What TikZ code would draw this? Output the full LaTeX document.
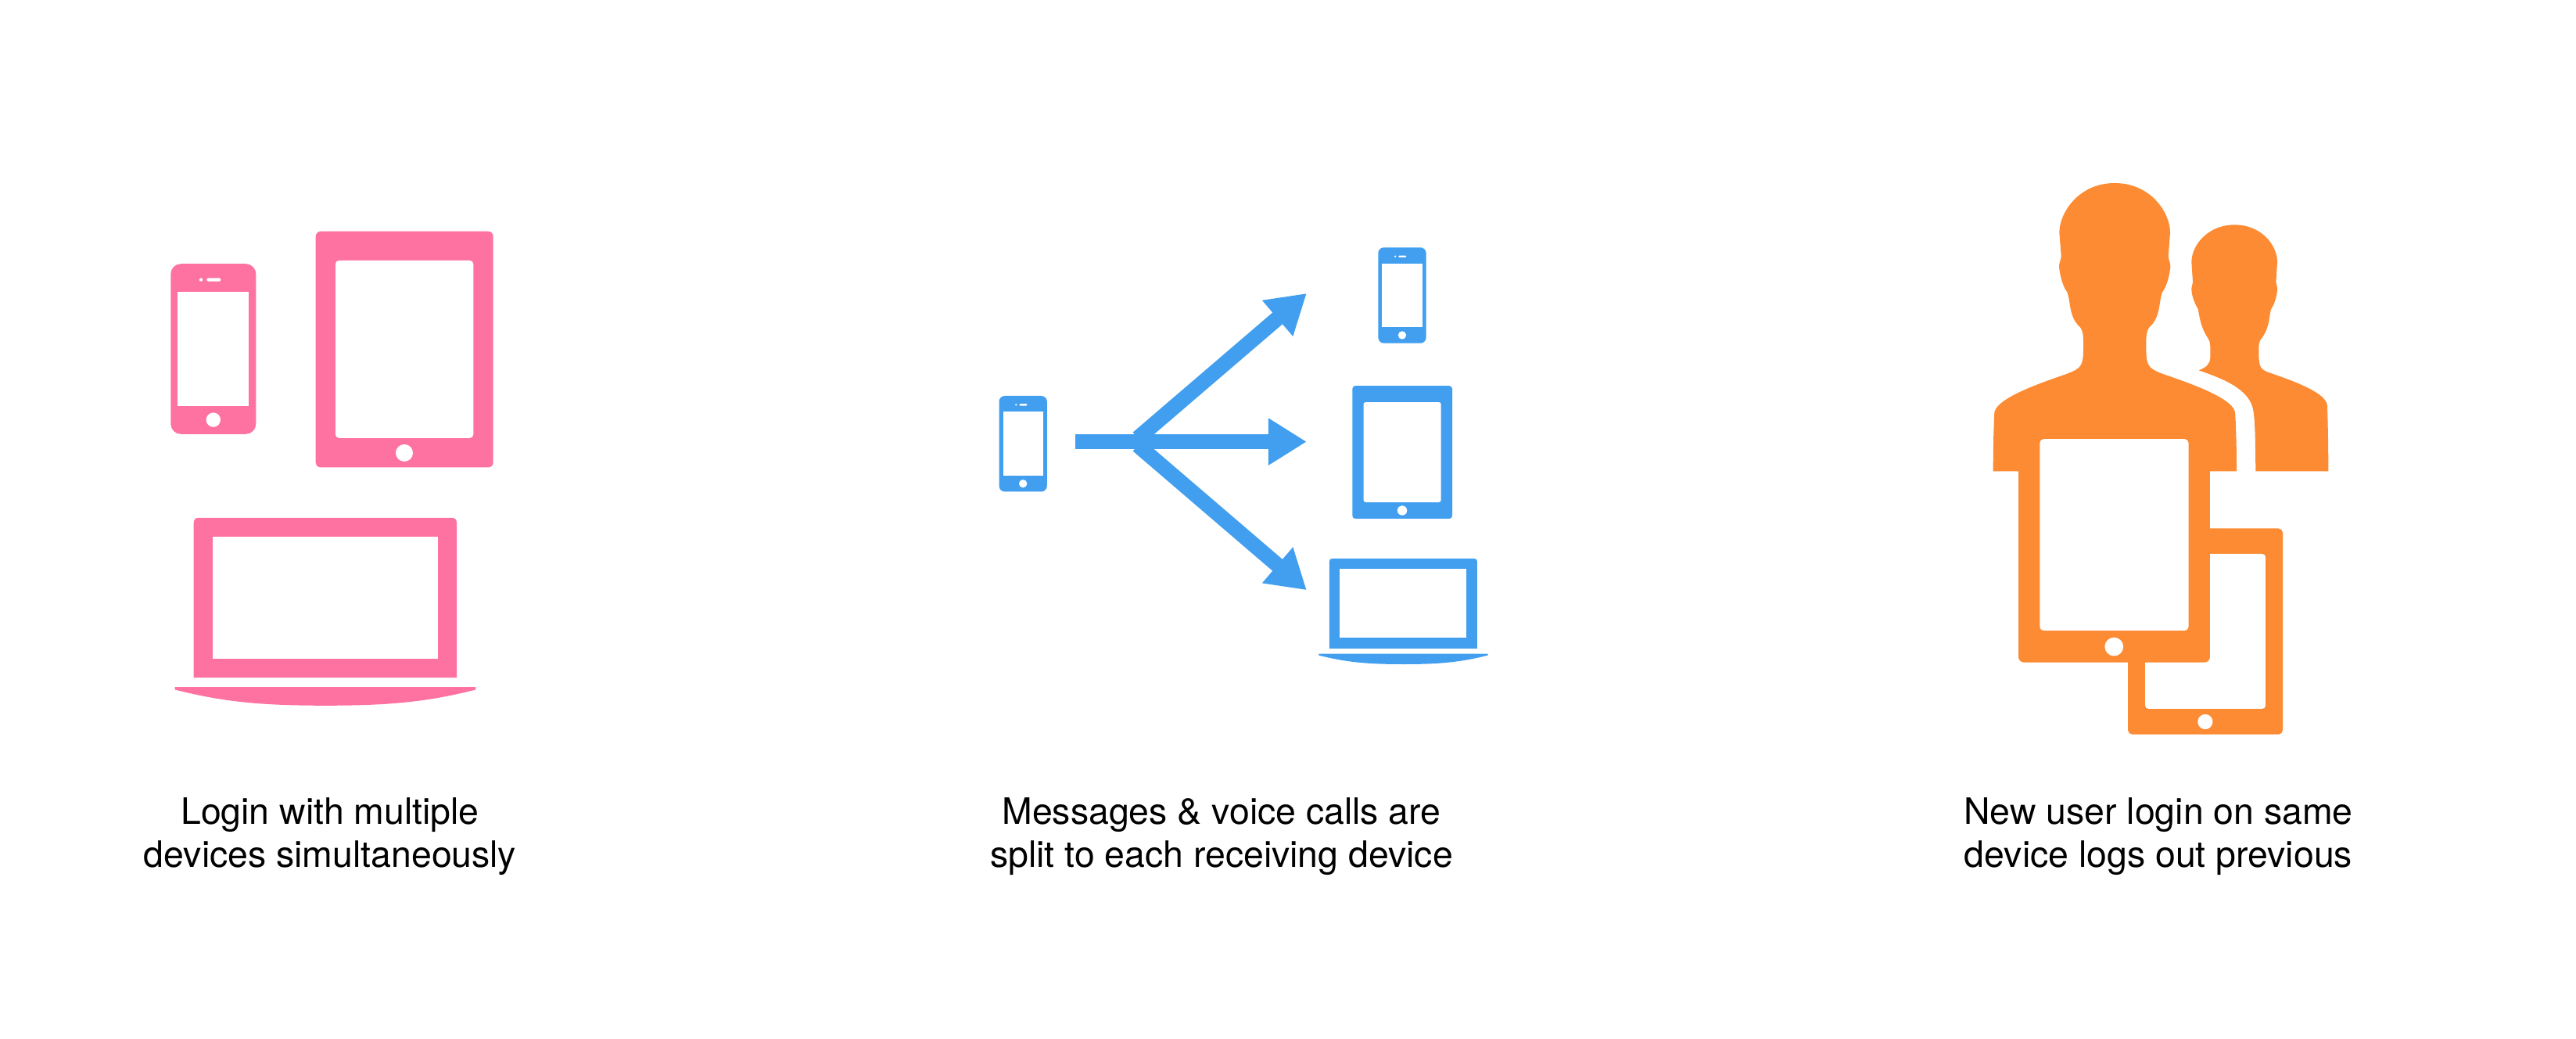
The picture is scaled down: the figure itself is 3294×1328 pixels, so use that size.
\documentclass[tikz,border=0pt]{standalone}
\usepackage{fontspec}
\setmainfont{TeX Gyre Heros}
\usetikzlibrary{arrows.meta}
\definecolor{iconpink}{HTML}{FE72A2}
\definecolor{iconblue}{HTML}{429FEF}
\definecolor{iconorange}{HTML}{FC8B33}
\tikzset{
	caption/.style = {align = center, font = \fontsize{13.2}{15.5}\selectfont},
	splitarrow/.style = {iconblue, line width = 1.95mm, -{Triangle[length = 4.9mm, width = 5.7mm]}}
}
\newcommand{\phoneicon}[4]{
	\begin{scope}[shift = {(#2, #3)}, scale = #4]
		\fill[#1, rounded corners = #4*1.3mm] (0, 0) rectangle (109, 217.6);
		\fill[white] (9, 36) rectangle (100, 181.6);
		\fill[white] (54.5, 199.4) circle (9.2);
		\fill[white, rounded corners = #4*0.2mm] (46, 18.2) rectangle (64, 22.4);
		\fill[white] (38.7, 20.3) circle (2.2);
	\end{scope}
}
\newcommand{\tableticon}[4]{
	\begin{scope}[shift = {(#2, #3)}, scale = #4]
		\fill[#1, rounded corners = #4*0.65mm] (0, 0) rectangle (227, 301.8);
		\fill[white, rounded corners = #4*0.45mm] (25.3, 37.3) rectangle (201.6, 264.1);
		\fill[white] (113.3, 283.2) circle (11);
	\end{scope}
}
\newcommand{\laptopicon}[4]{
	\begin{scope}[shift = {(#2, #3)}, scale = #4]
		\fill[#1] (0, 204.4) -- (0, 7) .. controls (0, 2) and (2, 0) .. (7, 0) -- (329.3, 0) .. controls (334.3, 0) and (336.3, 2) .. (336.3, 7) -- (336.3, 204.4) -- cycle;
		\fill[white] (24, 24) rectangle (312.3, 180.3);
		\fill[#1] (-24, 216.4) -- (360.6, 216.4) -- (360.6, 219.7) .. controls (296.6, 236) and (246.6, 240) .. (168.3, 240) .. controls (90, 240) and (40, 236) .. (-24, 219.7) -- cycle;
	\end{scope}
}
\begin{document}
\begin{tikzpicture}[x = 0.01cm, y = -0.01cm]
	\useasboundingbox (0, 0) rectangle (3294, 1328);

	\phoneicon{iconpink}{218.3}{337.2}{1}
	\tableticon{iconpink}{403.7}{295.7}{1}
	\laptopicon{iconpink}{247.7}{661.8}{1}

	\phoneicon{iconblue}{1277.5}{506}{0.5625}
	\phoneicon{iconblue}{1762.3}{316.3}{0.5625}
	\tableticon{iconblue}{1729.3}{493.2}{0.5625}
	\laptopicon{iconblue}{1699.8}{714}{0.5625}

	\coordinate (splitStart) at (1375, 564.6);
	\coordinate (splitUp) at (1455, 560);
	\coordinate (splitDown) at (1455, 569.2);
	\coordinate (toPhone) at (1670.8, 375);
	\coordinate (toTablet) at (1670.8, 564.6);
	\coordinate (toLaptop) at (1670.8, 754.2);
	\draw[splitarrow] (splitUp) -- (toPhone);
	\draw[splitarrow] (splitDown) -- (toLaptop);
	\draw[splitarrow] (splitStart) -- (toTablet);

	\begin{scope}[shift = {(2500, 210)}, scale = 1/3]
		\fill[iconorange] (1072, 232) .. controls (1175, 232) and (1236, 310) .. (1236, 375) -- (1231, 452) .. controls (1232, 462) and (1237, 468) .. (1236, 482) .. controls (1234, 505) and (1226, 535) .. (1214, 552) .. controls (1203, 570) and (1212, 625) .. (1172, 672) .. controls (1165, 685) and (1165, 690) .. (1165, 720) .. controls (1165, 775) and (1170, 785) .. (1200, 797) .. controls (1280, 825) and (1415, 870) .. (1427, 920) .. controls (1430, 960) and (1432, 1100) .. (1432, 1177) -- (1153, 1177) .. controls (1152, 1100) and (1152, 1000) .. (1145, 950) .. controls (1135, 860) and (1020, 820) .. (935, 790) .. controls (960, 780) and (979, 768) .. (979, 740) .. controls (979, 690) and (980, 685) .. (972, 670) .. controls (945, 630) and (940, 600) .. (932, 555) .. controls (920, 535) and (909, 510) .. (907, 482) .. controls (906, 468) and (912, 462) .. (912, 452) -- (907, 375) .. controls (907, 310) and (970, 232) .. (1072, 232) -- cycle;
	\end{scope}

	\tableticon{iconorange}{2721}{675.4}{0.8725}

	\begin{scope}[shift = {(2500, 210)}, scale = 1/3]
		\fill[iconorange] (612, 72) .. controls (750, 72) and (825, 185) .. (825, 262) -- (818, 352) .. controls (818, 365) and (826, 375) .. (826, 392) .. controls (824, 420) and (812, 470) .. (795, 490) .. controls (780, 530) and (790, 585) .. (745, 625) .. controls (735, 640) and (733, 650) .. (733, 690) .. controls (733, 770) and (735, 780) .. (795, 803) .. controls (870, 830) and (1060, 890) .. (1074, 950) .. controls (1078, 1000) and (1080, 1100) .. (1080, 1177) -- (146, 1177) .. controls (146, 1100) and (148, 1000) .. (151, 950) .. controls (165, 890) and (355, 830) .. (430, 803) .. controls (490, 780) and (492, 770) .. (492, 690) .. controls (492, 650) and (490, 640) .. (480, 625) .. controls (435, 585) and (445, 530) .. (430, 490) .. controls (413, 470) and (401, 420) .. (399, 392) .. controls (399, 375) and (407, 365) .. (407, 352) -- (400, 262) .. controls (400, 185) and (475, 72) .. (612, 72) -- cycle;
	\end{scope}

	\tableticon{iconorange}{2581}{521}{1.079}

	\node[caption] (loginText) at (422, 1069) {Login with multiple\\devices simultaneously};
	\node[caption] (splitText) at (1562, 1069) {Messages \& voice calls are\\split to each receiving device};
	\node[caption] (newUserText) at (2760, 1069) {New user login on same\\device logs out previous};
\end{tikzpicture}
\end{document}
